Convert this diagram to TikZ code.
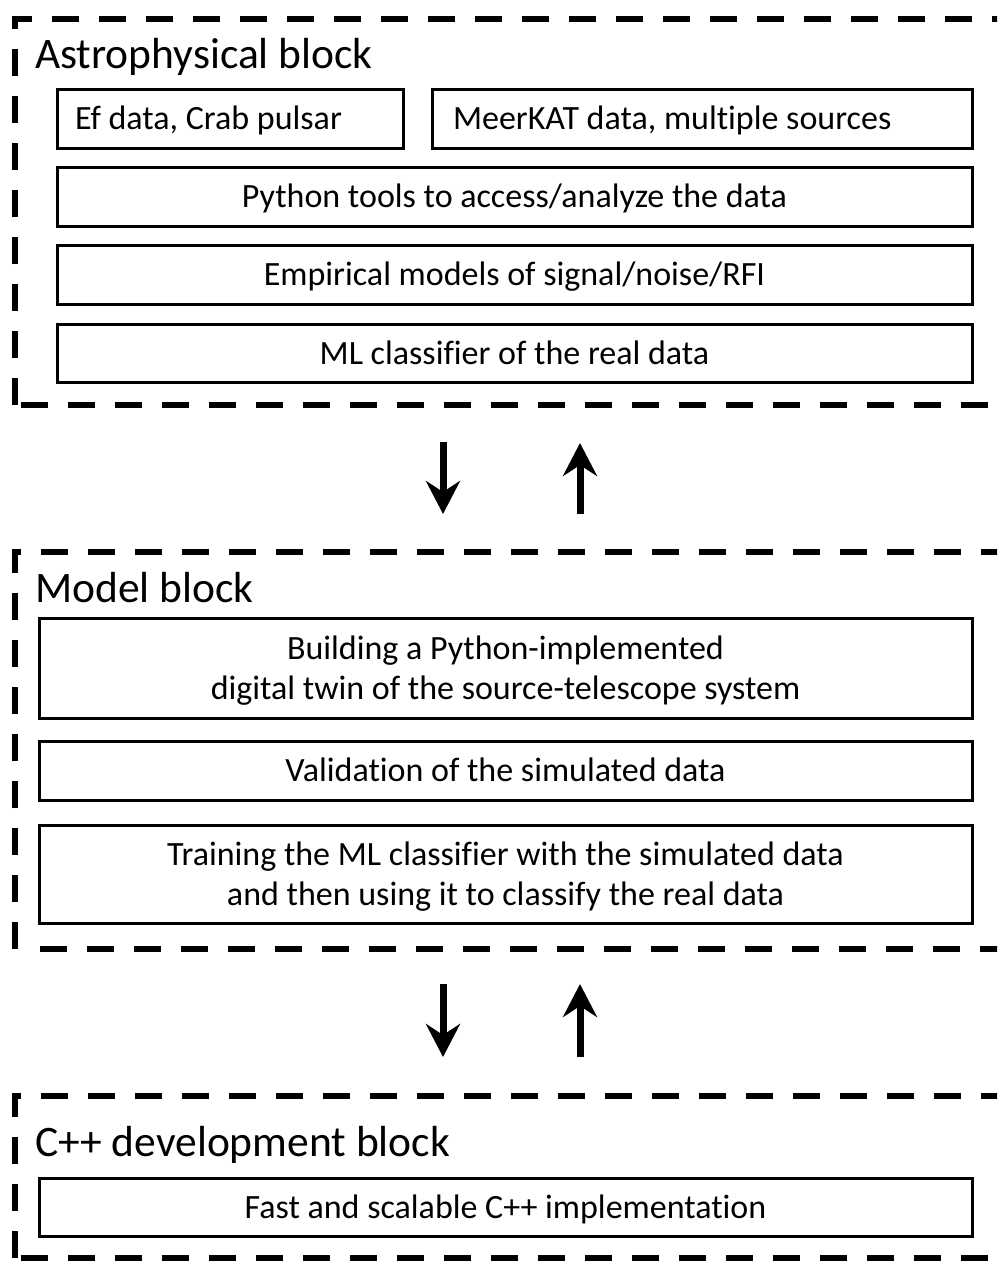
\documentclass[tikz,border=0pt]{standalone}
\usepackage{fontspec}
\setmainfont[Ligatures=NoCommon]{Carlito}
\usetikzlibrary{arrows.meta}
\newcommand\topstrutx{\rule{0pt}{0.9em}}
\newcommand\botstrutx{\rule[-0.25em]{0pt}{0pt}}
\begin{document}
\begin{tikzpicture}[x=1pt,y=-1pt,
  blockline/.style={line width=6pt, dash pattern=on 27pt off 20pt},
  inbox/.style={draw, line width=3pt, inner sep=0pt, font=\fontsize{34}{40}\selectfont, align=center},
  blocktitle/.style={anchor=base west, inner sep=0pt, font=\fontsize{43.5}{50}\selectfont},
  flow/.style={line width=7pt, -{Stealth[length=33pt,width=34pt,inset=11pt]}}]
\useasboundingbox (0,0) rectangle (997,1261);
\clip (0,0) rectangle (997,1261);
% Astrophysical block
\draw[blockline] (15,405) -- (15,19) -- (1010,19);
\draw[blockline] (21,405) -- (1010,405);
\node[blocktitle] (ta) at (35,68) {Astrophysical block};
\node[inbox, minimum width=346pt, minimum height=59pt, text width=310pt, align=flush left] (a1) at (230,118.5) {\topstrutx Ef data, Crab pulsar\botstrutx};
\node[inbox, minimum width=540pt, minimum height=59pt, text width=498pt, align=flush left] (a2) at (702,118.5) {\topstrutx MeerKAT data, multiple sources\botstrutx};
\node[inbox, minimum width=915pt, minimum height=59pt] (a3) at (514.5,196.5) {\topstrutx Python tools to access/analyze the data\botstrutx};
\node[inbox, minimum width=915pt, minimum height=59pt] (a4) at (514.5,274.5) {\topstrutx Empirical models of signal/noise/RFI\botstrutx};
\node[inbox, minimum width=915pt, minimum height=58pt] (a5) at (514.5,353) {\topstrutx ML classifier of the real data\botstrutx};
% arrows 1
\coordinate (d1s) at (443,442);
\coordinate (d1e) at (443,514);
\coordinate (u1s) at (580,514);
\coordinate (u1e) at (580,443);
\draw[flow] (d1s) -- (d1e);
\draw[flow] (u1s) -- (u1e);
% Model block
\draw[blockline] (15,949) -- (15,552) -- (1010,552);
\draw[blockline] (40,949) -- (1010,949);
\node[blocktitle] (tb) at (35,602) {Model block};
\node[inbox, minimum width=933pt, minimum height=100pt] (b1) at (505.5,668) {\topstrutx Building a Python-implemented\\digital twin of the source-telescope system\botstrutx};
\node[inbox, minimum width=933pt, minimum height=59pt] (b2) at (505.5,770.5) {\topstrutx Validation of the simulated data\botstrutx};
\node[inbox, minimum width=933pt, minimum height=98pt] (b3) at (505.5,874) {\topstrutx Training the ML classifier with the simulated data\\and then using it to classify the real data\botstrutx};
% arrows 2
\coordinate (d2s) at (443,984);
\coordinate (d2e) at (443,1057);
\coordinate (u2s) at (580,1057);
\coordinate (u2e) at (580,984);
\draw[flow] (d2s) -- (d2e);
\draw[flow] (u2s) -- (u2e);
% C++ block
\draw[blockline] (15,1258) -- (15,1096) -- (1010,1096);
\draw[blockline] (21,1258) -- (1010,1258);
\node[blocktitle] (tc) at (35,1156) {C++ development block};
\node[inbox, minimum width=933pt, minimum height=58pt] (c1) at (505.5,1207) {\topstrutx Fast and scalable C++ implementation\botstrutx};
\end{tikzpicture}
\end{document}
